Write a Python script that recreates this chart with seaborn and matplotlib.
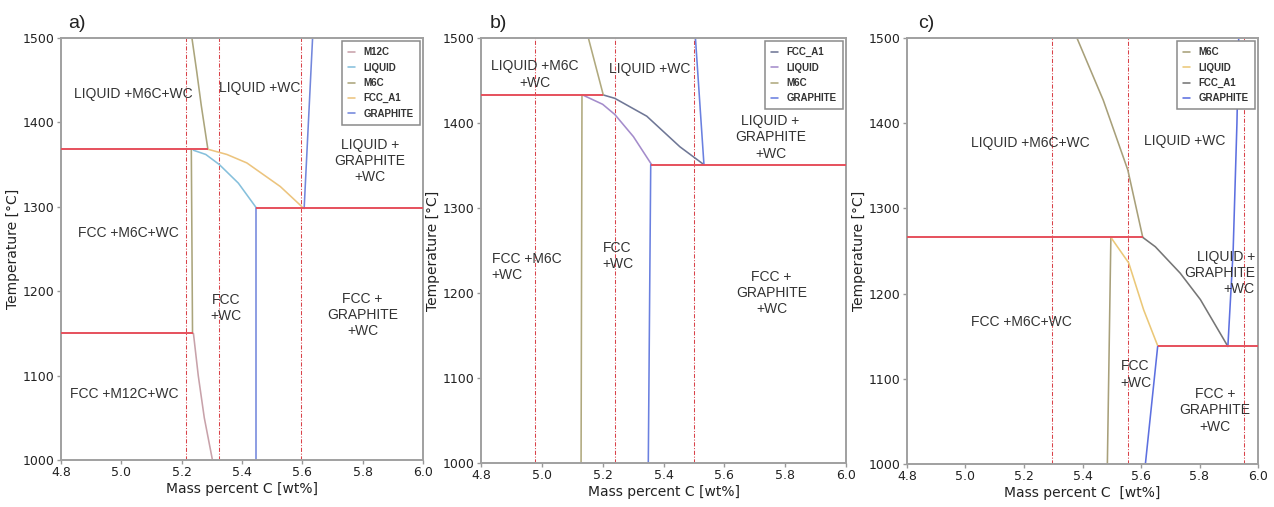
import matplotlib
matplotlib.use("Agg")
import matplotlib.pyplot as plt
import seaborn as sns

# ---------------- data ----------------
x_ticks = [4.8, 5.0, 5.2, 5.4, 5.6, 5.8, 6.0]
t_ticks = [1000, 1100, 1200, 1300, 1400, 1500]

# panel a
a_m12c_x = [5.239, 5.255, 5.275, 5.302]
a_m12c_t = [1150, 1100, 1050, 1000]
a_liquid_x = [5.239, 5.28, 5.325, 5.388, 5.449]
a_liquid_t = [1367, 1362, 1350, 1328, 1298]
a_m6c_up_x = [5.234, 5.250, 5.265, 5.287]
a_m6c_up_t = [1500, 1460, 1420, 1368]
a_m6c_v_x = [5.232, 5.236]
a_m6c_v_t = [1368, 1150]
a_fcc_x = [5.289, 5.35, 5.416, 5.527, 5.599]
a_fcc_t = [1368, 1362, 1352, 1324, 1300]
a_gra_up_x = [5.606, 5.634]
a_gra_up_t = [1298, 1500]
a_gra_v_x = [5.448, 5.448]
a_gra_v_t = [1298, 1000]
a_eut_t = [1368, 1298, 1150]
a_eut_x0 = [4.8, 5.448, 4.8]
a_eut_x1 = [5.287, 6.0, 5.237]
a_comp = [5.214, 5.325, 5.596]

# panel b
b_fcc_x = [5.202, 5.24, 5.345, 5.454, 5.533]
b_fcc_t = [1433, 1429, 1408, 1372, 1351]
b_liquid_x = [5.134, 5.20, 5.240, 5.301, 5.361]
b_liquid_t = [1433, 1422, 1410, 1384, 1351]
b_m6c_up_x = [5.153, 5.202]
b_m6c_up_t = [1500, 1433]
b_m6c_v_x = [5.132, 5.129]
b_m6c_v_t = [1433, 1000]
b_gra_up_x = [5.533, 5.505]
b_gra_up_t = [1351, 1500]
b_gra_v_x = [5.358, 5.350]
b_gra_v_t = [1351, 1000]
b_eut_t = [1433, 1351]
b_eut_x0 = [4.8, 5.358]
b_eut_x1 = [5.202, 6.0]
b_comp = [4.978, 5.242, 5.50]

# panel c
c_m6c_up_x = [5.381, 5.471, 5.555, 5.606]
c_m6c_up_t = [1500, 1427, 1345, 1266]
c_m6c_v_x = [5.497, 5.485]
c_m6c_v_t = [1266, 1000]
c_liquid_x = [5.497, 5.558, 5.609, 5.658]
c_liquid_t = [1266, 1236, 1181, 1138]
c_fcc_x = [5.606, 5.649, 5.734, 5.803, 5.897]
c_fcc_t = [1266, 1255, 1224, 1193, 1138]
c_gra_up_x = [5.897, 5.915, 5.928, 5.934]
c_gra_up_t = [1138, 1250, 1400, 1500]
c_gra_v_x = [5.657, 5.615]
c_gra_v_t = [1138, 1000]
c_eut_t = [1266, 1138]
c_eut_x0 = [4.8, 5.657]
c_eut_x1 = [5.606, 6.0]
c_comp = [5.296, 5.556, 5.952]

# region labels: text, x, T, alignment
a_regions = [("LIQUID +M6C+WC", 5.04, 1434, "center"),
             ("LIQUID +WC", 5.46, 1441, "center"),
             ("LIQUID +\nGRAPHITE\n+WC", 5.825, 1354, "center"),
             ("FCC +M6C+WC", 5.023, 1269, "center"),
             ("FCC\n+WC", 5.348, 1180, "center"),
             ("FCC +\nGRAPHITE\n+WC", 5.80, 1172, "center"),
             ("FCC +M12C+WC", 5.01, 1078, "center")]
b_regions = [("LIQUID +M6C\n+WC", 4.978, 1457, "center"),
             ("LIQUID +WC", 5.356, 1464, "center"),
             ("LIQUID +\nGRAPHITE\n+WC", 5.752, 1383, "center"),
             ("FCC +M6C\n+WC", 4.835, 1231, "left"),
             ("FCC\n+WC", 5.20, 1244, "left"),
             ("FCC +\nGRAPHITE\n+WC", 5.755, 1200, "center")]
c_regions = [("LIQUID +M6C+WC", 5.222, 1377, "center"),
             ("LIQUID +WC", 5.749, 1379, "center"),
             ("LIQUID +\nGRAPHITE\n+WC", 5.989, 1224, "right"),
             ("FCC +M6C+WC", 5.19, 1167, "center"),
             ("FCC\n+WC", 5.53, 1105, "left"),
             ("FCC +\nGRAPHITE\n+WC", 5.852, 1063, "center")]

# ---------------- style ----------------
sns.set_style("white")
plt.rcParams['font.family'] = ['DejaVu Sans']

W, H = 1274, 507
fig = plt.figure(figsize=(W / 100, H / 100), dpi=100)


def add_ax(l, r, t, b):
    return fig.add_axes([l / W, 1 - b / H, (r - l) / W, (b - t) / H])


axA = add_ax(61, 423, 38, 460)
axB = add_ax(481, 846, 38, 463)
axC = add_ax(907, 1258, 38, 464)


def draw_panel(ax, phases, order, eut_t, eut_x0, eut_x1, comps, regions, xlabel, tag, tagx):
    # composition lines
    for xc in comps:
        ax.axvline(xc, color="#d9434a", lw=0.75, ls=(0, (4, 1.6, 1, 1.6)), zorder=1)
    # phase boundaries
    for name, color, segs in phases:
        for i, (xs, ts) in enumerate(segs):
            sns.lineplot(x=xs, y=ts, sort=False, estimator=None, color=color,
                         lw=1.15, ax=ax, label=name if i == 0 else None,
                         legend=False, zorder=2)
    # invariant (eutectic) lines
    ax.hlines(eut_t, eut_x0, eut_x1, color="#e6505c", lw=1.4, zorder=3)
    for txt, x, t, al in regions:
        ax.text(x, t, txt, ha=al, va="center", multialignment=al,
                fontsize=10, color="#333333", family=["Liberation Sans", "DejaVu Sans"])
    ax.set_xlim(4.8, 6.0)
    ax.set_ylim(1000, 1500)
    ax.set_xticks(x_ticks)
    ax.set_xticklabels([f"{v:.1f}" for v in x_ticks])
    ax.set_yticks(t_ticks)
    ax.tick_params(axis="both", length=3, width=1, color="#999999", labelsize=9,
                   labelcolor="#222222", pad=1.5, left=True, bottom=True)
    for s in ax.spines.values():
        s.set_color("#a0a0a0")
        s.set_linewidth(1.4)
        s.set_visible(True)
    ax.set_xlabel(xlabel, fontsize=10, color="#222222", labelpad=2)
    ax.set_ylabel("Temperature [°C]", fontsize=10, color="#222222", labelpad=2)
    hands = {}
    for ln in ax.get_lines():
        lab = ln.get_label()
        if lab in order and lab not in hands:
            hands[lab] = ln
    leg = ax.legend([hands[k] for k in order], order, loc="upper right",
                    prop={"family": ["Liberation Sans", "DejaVu Sans"],
                          "weight": "bold", "size": 7},
                    handlelength=0.7, handletextpad=0.9, labelspacing=0.55,
                    borderpad=0.6, borderaxespad=0.35, fancybox=False, framealpha=1)
    leg.get_frame().set_edgecolor("#8a8a8a")
    leg.get_frame().set_linewidth(1.1)
    for t in leg.get_texts():
        t.set_color("#333333")
    fig.text(tagx / W, 1 - 23 / H, tag, fontsize=14, va="center", ha="left",
             color="#222222", family=["Liberation Sans", "DejaVu Sans"])


draw_panel(axA,
           [("M12C", "#c8a2aa", [(a_m12c_x, a_m12c_t)]),
            ("LIQUID", "#86c0dc", [(a_liquid_x, a_liquid_t)]),
            ("M6C", "#aba57c", [(a_m6c_up_x, a_m6c_up_t), (a_m6c_v_x, a_m6c_v_t)]),
            ("FCC_A1", "#ecc47e", [(a_fcc_x, a_fcc_t)]),
            ("GRAPHITE", "#7387dc", [(a_gra_up_x, a_gra_up_t), (a_gra_v_x, a_gra_v_t)])],
           ["M12C", "LIQUID", "M6C", "FCC_A1", "GRAPHITE"],
           a_eut_t, a_eut_x0, a_eut_x1, a_comp, a_regions,
           "Mass percent C [wt%]", "a)", 68)

draw_panel(axB,
           [("FCC_A1", "#6f7796", [(b_fcc_x, b_fcc_t)]),
            ("LIQUID", "#a48ccb", [(b_liquid_x, b_liquid_t)]),
            ("M6C", "#b0a97e", [(b_m6c_up_x, b_m6c_up_t), (b_m6c_v_x, b_m6c_v_t)]),
            ("GRAPHITE", "#6a80e0", [(b_gra_up_x, b_gra_up_t), (b_gra_v_x, b_gra_v_t)])],
           ["FCC_A1", "LIQUID", "M6C", "GRAPHITE"],
           b_eut_t, b_eut_x0, b_eut_x1, b_comp, b_regions,
           "Mass percent C [wt%]", "b)", 490)

draw_panel(axC,
           [("M6C", "#a8a07a", [(c_m6c_up_x, c_m6c_up_t), (c_m6c_v_x, c_m6c_v_t)]),
            ("LIQUID", "#ebc878", [(c_liquid_x, c_liquid_t)]),
            ("FCC_A1", "#767676", [(c_fcc_x, c_fcc_t)]),
            ("GRAPHITE", "#5d70e0", [(c_gra_up_x, c_gra_up_t), (c_gra_v_x, c_gra_v_t)])],
           ["M6C", "LIQUID", "FCC_A1", "GRAPHITE"],
           c_eut_t, c_eut_x0, c_eut_x1, c_comp, c_regions,
           "Mass percent C  [wt%]", "c)", 918)

fig.savefig("out.png", dpi=100)
